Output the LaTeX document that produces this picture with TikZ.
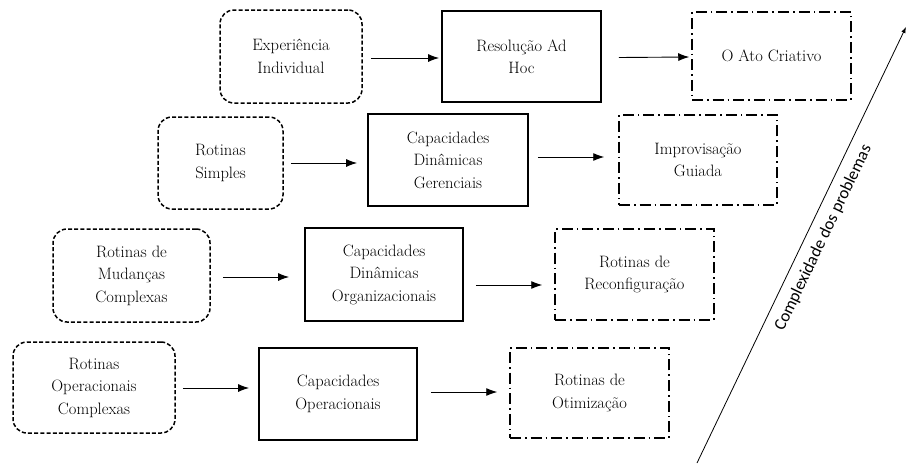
\documentclass[tikz,border=0pt]{standalone}
\usepackage{fontspec}
\newfontfamily\labelfont{Carlito}
\usetikzlibrary{arrows.meta,calc}
\begin{document}
\begin{tikzpicture}[x=1pt,y=-1pt,
  txt/.style={align=center,font=\fontsize{16.5}{22.5}\selectfont,inner sep=0pt},
  roundbox/.style={txt,draw,rounded corners=14pt,line width=1.5pt,dash pattern=on 4pt off 2.2pt},
  solidbox/.style={txt,draw,line width=1.8pt},
  dotbox/.style={txt,draw,line width=1.5pt,dash pattern=on 11pt off 4pt on 1.6pt off 4pt},
  arr/.style={line width=0.9pt,-{Latex[length=11pt,width=8pt]}},
]
\fill[white] (0,0) rectangle (906,464);
\useasboundingbox (0,0) rectangle (906,464);
% row 1
\node[roundbox,minimum width=142pt,minimum height=93pt] (e) at (291,56.5) {Experiência\\Individual};
\node[solidbox,minimum width=159pt,minimum height=91pt] (r) at (521.5,56.5) {Resolução Ad\\Hoc};
\node[dotbox,minimum width=159pt,minimum height=88pt] (o) at (771.5,56) {O Ato Criativo};
% row 2
\node[roundbox,minimum width=125pt,minimum height=92pt] (rs) at (220.5,163) {Rotinas\\Simples};
\node[solidbox,minimum width=160pt,minimum height=92pt] (cdg) at (448,160) {Capacidades\\Dinâmicas\\Gerenciais};
\node[dotbox,minimum width=158pt,minimum height=90pt] (ig) at (698,160) {Improvisação\\Guiada};
% row 3
\node[roundbox,minimum width=157pt,minimum height=93pt] (rmc) at (131.5,275.5) {Rotinas de\\Mudanças\\Complexas};
\node[solidbox,minimum width=158pt,minimum height=93pt] (cdo) at (384,274.5) {Capacidades\\Dinâmicas\\Organizacionais};
\node[dotbox,minimum width=159pt,minimum height=91pt] (rr) at (634.5,274.5) {Rotinas de\\Reconfiguração};
% row 4
\node[roundbox,minimum width=162pt,minimum height=91pt] (roc) at (94,387.5) {Rotinas\\Operacionais\\Complexas};
\node[solidbox,minimum width=158pt,minimum height=92pt] (co) at (338,394) {Capacidades\\Operacionais};
\node[dotbox,minimum width=159pt,minimum height=90pt] (ro) at (589.5,393) {Rotinas de\\Otimização};
% arrows
\draw[arr] ([shift={(8,1.5)}]e.east) -- ([shift={(-2,1.5)}]r.west);
\draw[arr] ([shift={(17,1)}]r.east) -- ([shift={(-2,1)}]o.west);
\draw[arr] ([shift={(7,0)}]rs.east) -- ([shift={(-10,3)}]cdg.west);
\draw[arr] ([shift={(9,-3)}]cdg.east) -- ([shift={(-14,-3)}]ig.west);
\draw[arr] ([shift={(12,1.5)}]rmc.east) -- ([shift={(-15,2.5)}]cdo.west);
\draw[arr] ([shift={(12,10.5)}]cdo.east) -- ([shift={(-12,10.5)}]rr.west);
\draw[arr] ([shift={(7,0.5)}]roc.east) -- ([shift={(-9,-6)}]co.west);
\draw[arr] ([shift={(13,-2)}]co.east) -- ([shift={(-12,-1)}]ro.west);
% complexity axis
\coordinate (a0) at (697,463);
\coordinate (a1) at (906,27);
\draw[line width=0.8pt,-{Latex[length=6pt,width=4.5pt]}] (a0) -- node[pos=0.533,sloped,below=9pt,inner sep=0pt,font=\labelfont\fontsize{17}{20}\selectfont]{Complexidade dos problemas} (a1);
\end{tikzpicture}
\end{document}
